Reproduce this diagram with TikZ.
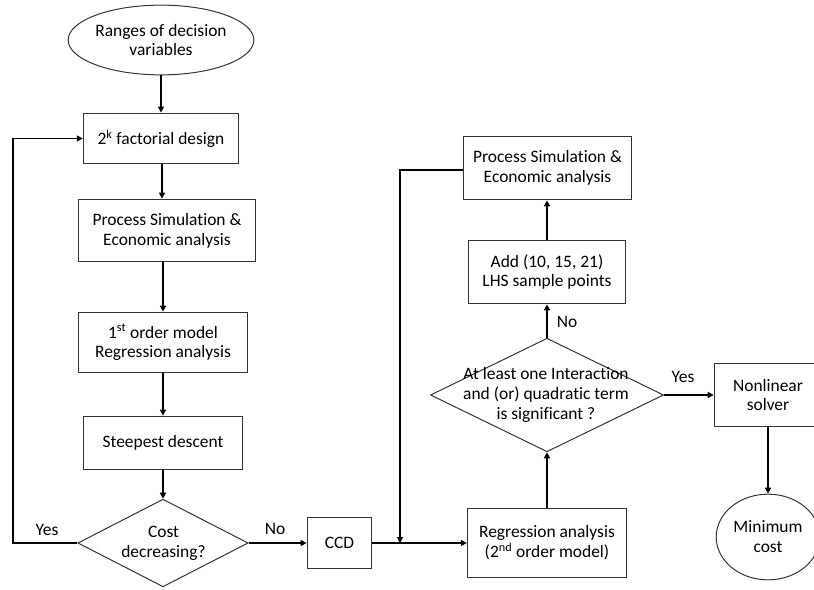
\documentclass[tikz,border=0pt]{standalone}
\usepackage{fontspec}
\setmainfont[Ligatures=NoCommon]{Carlito}
\usetikzlibrary{shapes.geometric,arrows.meta}
\begin{document}
\begin{tikzpicture}[x=1bp,y=-1bp,
  font=\fontsize{17.5}{20}\selectfont,
  box/.style={draw=black!80,line width=1pt,align=center,inner sep=0pt},
  dia/.style={draw=black!80,line width=1pt,diamond,inner sep=0pt,aspect=2},
  oval/.style={draw=black!80,line width=1pt,ellipse,align=center,inner sep=0pt},
  conn/.style={line width=1.6pt,-{Triangle[width=6pt,length=6pt]}},
  lbl/.style={inner sep=0pt}]
\useasboundingbox (0,0) rectangle (814,590);
\node[oval,minimum width=174,minimum height=70] (ell) at (161,40) {Ranges of decision\\variables};
\node[box,minimum width=156,minimum height=51] (fact) at (161,138.5) {2\textsuperscript{k} factorial design};
\node[box,minimum width=178,minimum height=63] (ps1) at (167,230.5) {Process Simulation \&\\Economic analysis};
\node[box,minimum width=169,minimum height=61] (fo) at (163,342.5) {1\textsuperscript{st} order model\\Regression analysis};
\node[box,minimum width=160,minimum height=54] (sd) at (163,443) {Steepest descent};
\node[dia,minimum width=171,minimum height=88] (cd) at (163,543) {};
\node[lbl,align=center] (cdt) at (163.5,543) {Cost\\decreasing?};
\node[box,minimum width=65,minimum height=52] (ccd) at (339.5,543) {CCD};
\node[box,minimum width=160,minimum height=70] (reg) at (547,543) {Regression analysis\\(2\textsuperscript{nd} order model)};
\node[dia,minimum width=234,minimum height=114] (d2) at (547,395) {};
\node[lbl,align=center] (d2t) at (546,395) {At least one Interaction\\and (or) quadratic term\\is significant ?};
\node[box,minimum width=158,minimum height=64] (add) at (547,272) {Add (10, 15, 21)\\LHS sample points};
\node[box,minimum width=169,minimum height=64] (ps2) at (547.5,168) {Process Simulation \&\\Economic analysis};
\node[box,minimum width=108,minimum height=64] (nl) at (768,395) {Nonlinear\\solver};
\node[oval,minimum width=104,minimum height=86] (mc) at (768,537) {Minimum\\cost};
\coordinate (loop) at (13,543);
\coordinate (jn) at (400,543);
\coordinate (up) at (400,170);
\draw[conn] (ell.south) -- (fact.north);
\draw[conn] (fact.south) ++(1,0) coordinate (a1) -- (a1 |- ps1.north);
\draw[conn] (ps1.south -| fo.north) -- (fo.north);
\draw[conn] (fo.south) -- (fo.south |- sd.north);
\draw[conn] (sd.south) -- (sd.south |- cd.north);
\draw[conn] (cd.west) -- (loop) |- (fact.west);
\node[lbl] (yes1) at (47,530) {Yes};
\draw[conn] (cd.east) -- (ccd.west);
\node[lbl] (no1) at (275,529) {No};
\draw[conn] (ccd.east) -- (reg.west);
\draw[conn] (ps2.west |- up) -- (up) -- (jn);
\draw[conn] (reg.north) -- (reg.north |- d2.south);
\draw[conn] (d2.north) -- (d2.north |- add.south);
\node[lbl] (no2) at (567,322) {No};
\draw[conn] (add.north) -- (add.north |- ps2.south);
\draw[conn] (d2.east) -- (d2.east -| nl.west);
\node[lbl] (yes2) at (683,377) {Yes};
\draw[conn] (nl.south) -- (nl.south |- mc.north);
\end{tikzpicture}
\end{document}
